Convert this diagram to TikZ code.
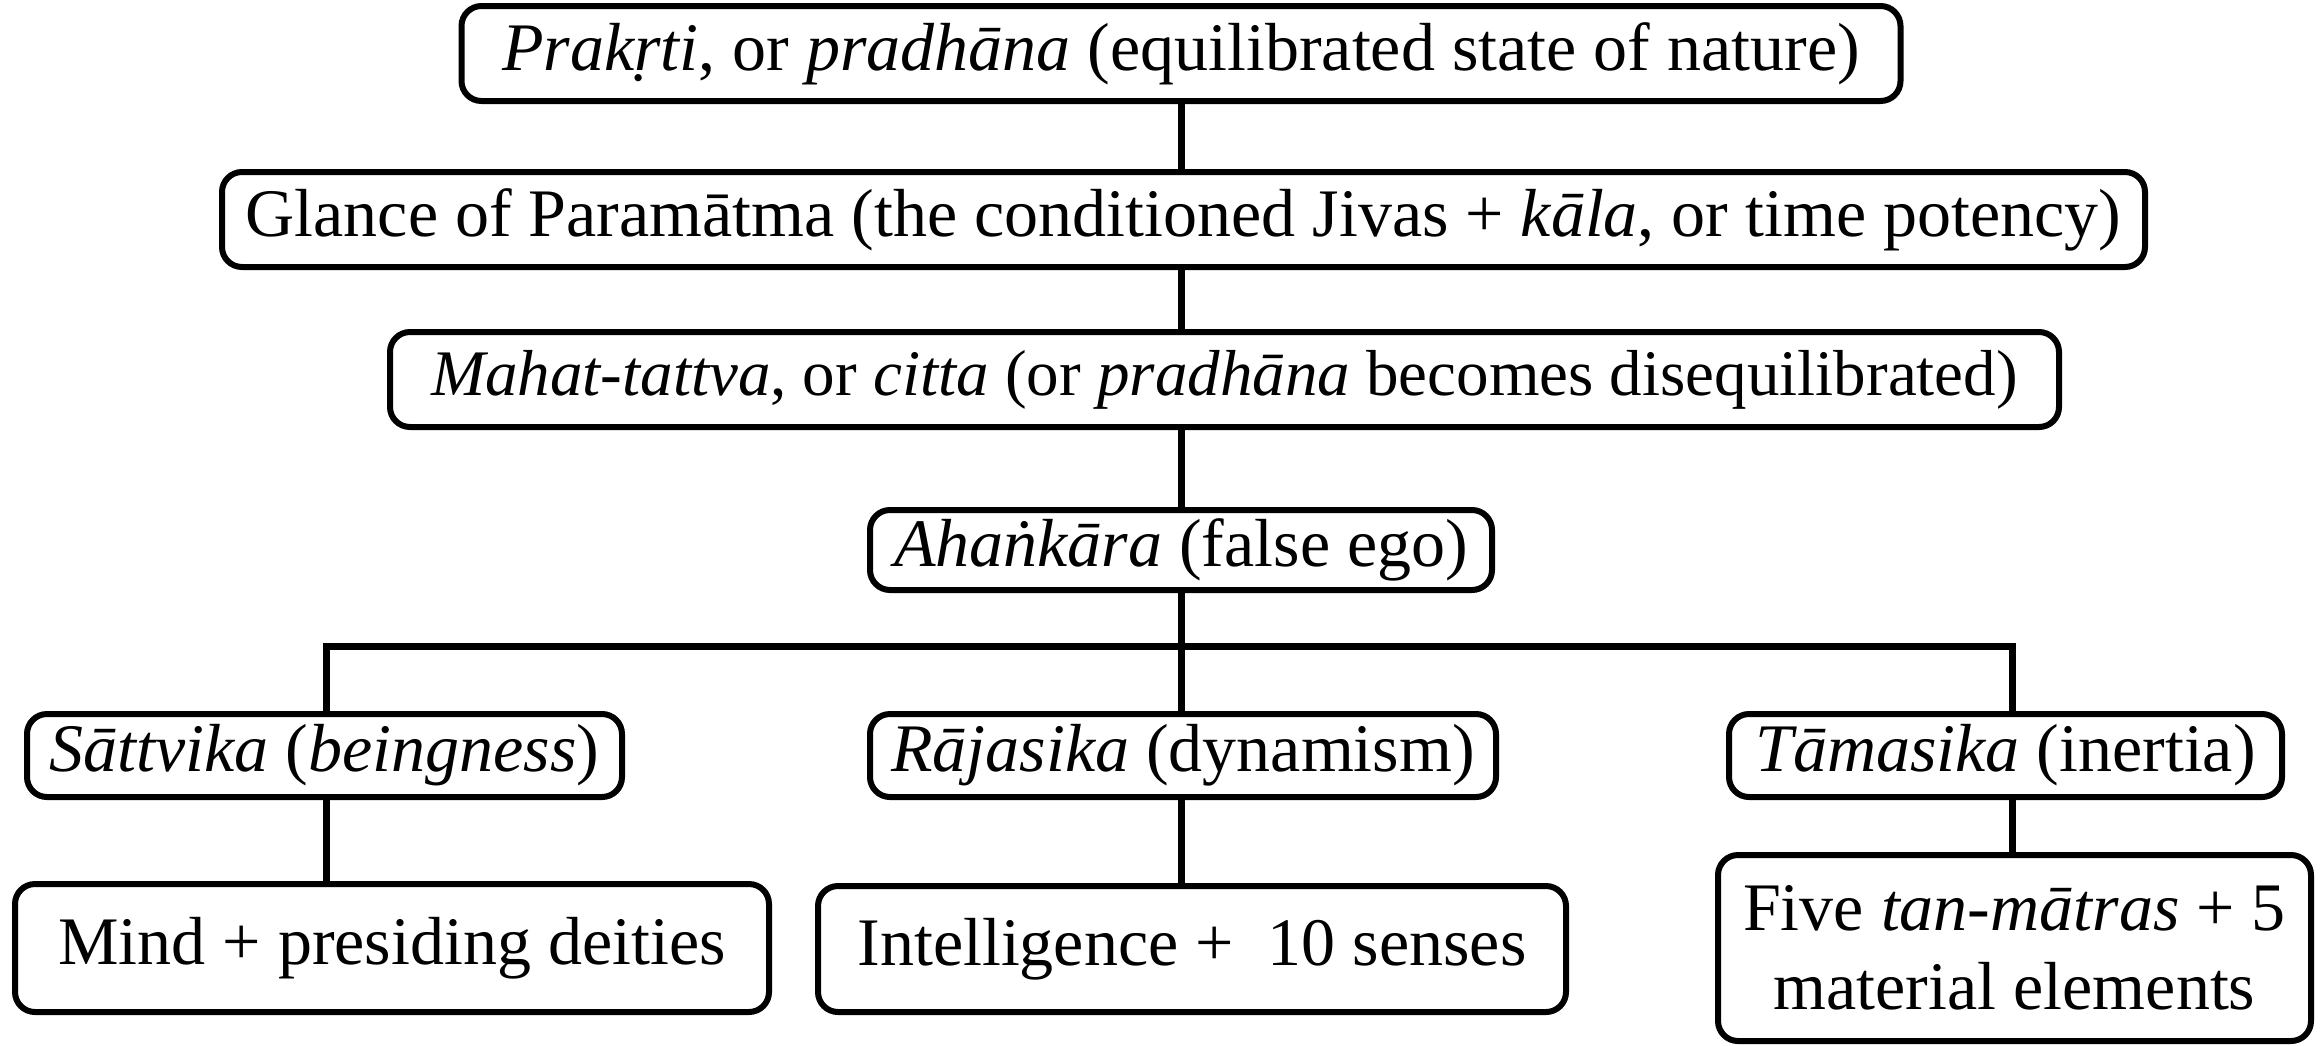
\documentclass[tikz,border=0pt]{standalone}
\usepackage{fontspec}
\setmainfont{Liberation Serif}
\begin{document}
\begin{tikzpicture}[x=1pt,y=-1pt,
  box/.style={draw=black, line width=6pt, rounded corners=20pt, fill=white,
    inner sep=0pt, align=center, font=\fontsize{68}{79}\selectfont},
  conn/.style={draw=black, line width=7pt}]
\useasboundingbox (0,0) rectangle (2323,1045);

\node[box, minimum width=1439pt, minimum height=95pt] (prak) at (1181,53.5)
  {\textit{Prakṛti}, or \textit{pradhāna} (equilibrated state of nature)};
\node[box, minimum width=1923pt, minimum height=95pt] (glance) at (1183.5,219.5)
  {Glance of Paramātma (the conditioned Jivas + \textit{kāla}, or time potency)};
\node[box, minimum width=1669pt, minimum height=95pt, font=\fontsize{65}{76}\selectfont] (mahat) at (1224.5,379.5)
  {\textit{Mahat-tattva}, or \textit{citta} (or \textit{pradhāna} becomes disequilibrated)};
\node[box, minimum width=622pt, minimum height=80pt] (ahan) at (1181,550)
  {\textit{Ahaṅkāra} (false ego)};

\node[box, minimum width=595pt, minimum height=83pt] (satt) at (324.5,755.5)
  {\textit{Sāttvika} (\textit{beingness})};
\node[box, minimum width=626pt, minimum height=83pt] (raja) at (1183,755.5)
  {\textit{Rājasika} (dynamism)};
\node[box, minimum width=553pt, minimum height=83pt] (tama) at (2005.5,755.5)
  {\textit{Tāmasika} (inertia)};

\node[box, minimum width=754pt, minimum height=128pt] (mind) at (392,948)
  {Mind + presiding deities};
\node[box, minimum width=748pt, minimum height=126pt] (intel) at (1192,949)
  {Intelligence +~~10 senses};
\node[box, minimum width=593pt, minimum height=186pt] (five) at (2014.5,948)
  {Five \textit{tan-mātras} + 5\\material elements};

\coordinate (spine) at (1181,0);
\coordinate (barL) at (326,646);
\coordinate (barR) at (2012,646);

\draw[conn] (spine |- prak.south) -- (spine |- glance.north);
\draw[conn] (spine |- glance.south) -- (spine |- mahat.north);
\draw[conn] (spine |- mahat.south) -- (spine |- ahan.north);
\draw[conn] (spine |- ahan.south) -- (spine |- raja.north);
\draw[conn] (barL |- satt.north) -- (barL) -- (barR) -- (barR |- tama.north);
\draw[conn] (barL |- satt.south) -- (barL |- mind.north);
\draw[conn] (spine |- raja.south) -- (spine |- intel.north);
\draw[conn] (barR |- tama.south) -- (barR |- five.north);
\end{tikzpicture}
\end{document}
